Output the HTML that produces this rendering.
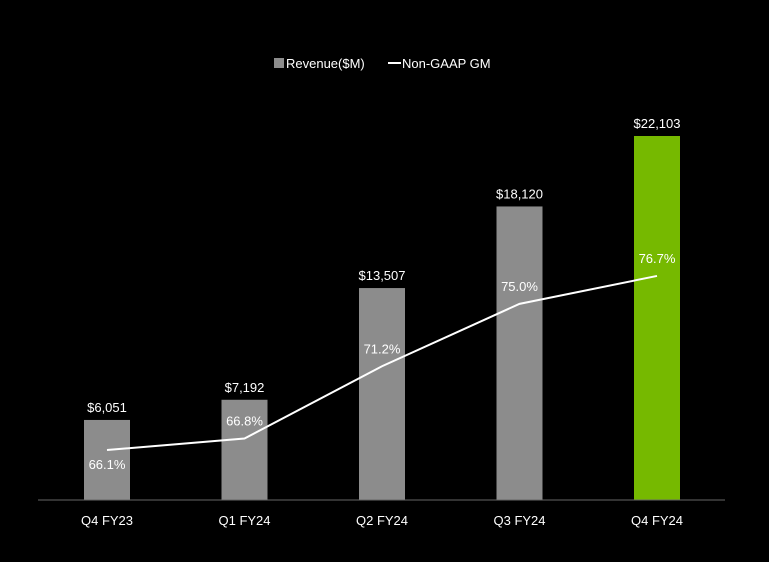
<!DOCTYPE html>
<html><head><meta charset="utf-8"><style>
html,body{margin:0;padding:0;background:#000;}
svg{display:block;font-family:"Liberation Sans",sans-serif;}
</style></head><body>
<svg id="chart" width="769" height="562">
<g id="legend">
<rect x="274" y="58" width="10" height="10" fill="#8c8c8c"/>
<text x="286" y="68" fill="#fff" font-size="13">Revenue($M)</text>
<line x1="388" y1="63" x2="401" y2="63" stroke="#fff" stroke-width="2"/>
<text x="402" y="68" fill="#fff" font-size="13">Non-GAAP GM</text>
</g>
<g id="bars"></g><g id="line"></g><g id="labels"></g>
<line x1="38" y1="500" x2="725" y2="500" stroke="#666" stroke-width="1"/>
</svg>
<script>
const categories=["Q4 FY23","Q1 FY24","Q2 FY24","Q3 FY24","Q4 FY24"];
const revenue=[6051,7192,13507,18120,22103];
const revenueLabels=["$6,051","$7,192","$13,507","$18,120","$22,103"];
const gm=[66.1,66.8,71.2,75.0,76.7];
const gmLabels=["66.1%","66.8%","71.2%","75.0%","76.7%"];
const NS="http://www.w3.org/2000/svg";
const xc=i=>107+i*137.5;
const yRev=v=>527-v*0.01769;
const yGm=v=>450-(v-66.1)*16.42;
const bars=document.getElementById('bars'),lineG=document.getElementById('line'),labs=document.getElementById('labels');
function mk(tag,attrs,parent){const e=document.createElementNS(NS,tag);for(const k in attrs)e.setAttribute(k,attrs[k]);parent.appendChild(e);return e;}
revenue.forEach((v,i)=>{
  const r=mk('rect',{x:xc(i)-23,y:yRev(v),width:46,height:500-yRev(v),fill:i===4?'#76b900':'#8c8c8c'},bars);
  
  
  const t=mk('text',{x:xc(i),y:yRev(v)-8,fill:'#fff','font-size':13,'text-anchor':'middle'},labs);
  t.textContent=revenueLabels[i];
  
  
  const c=mk('text',{x:xc(i),y:525,fill:'#fff','font-size':13,'text-anchor':'middle'},labs);
  c.textContent=categories[i];
  
  
});
const pts=gm.map((v,i)=>xc(i)+','+yGm(v)).join(' ');
const pl=mk('polyline',{points:pts,fill:'none',stroke:'#fff','stroke-width':2},lineG);


gm.forEach((v,i)=>{
  const dy=i===0?19:-13;
  const t=mk('text',{x:xc(i),y:yGm(v)+dy,fill:'#fff','font-size':13,'text-anchor':'middle'},labs);
  t.textContent=gmLabels[i];
  
  
});
</script>
</body></html>
